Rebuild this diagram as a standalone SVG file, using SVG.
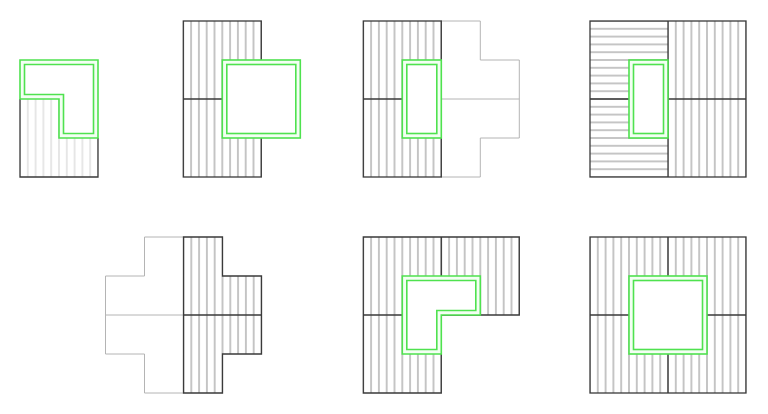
<svg xmlns="http://www.w3.org/2000/svg" width="768" height="414" viewBox="0 0 768 414">
<defs>
<pattern id="vh" patternUnits="userSpaceOnUse" x="-3.9" y="0" width="7.8" height="20">
<line x1="3.9" y1="0" x2="3.9" y2="20" stroke="#8c8c8c" stroke-width="1"/>
</pattern>
<pattern id="vhl" patternUnits="userSpaceOnUse" x="-3.9" y="0" width="7.8" height="20">
<line x1="3.9" y1="0" x2="3.9" y2="20" stroke="#cfcfcf" stroke-width="1"/>
</pattern>
<pattern id="hh" patternUnits="userSpaceOnUse" x="0" y="-3.9" width="20" height="7.8">
<line x1="0" y1="3.9" x2="20" y2="3.9" stroke="#8c8c8c" stroke-width="1"/>
</pattern>
</defs>
<style>
.dk{fill:none;stroke:#3a3a3a;stroke-width:1.3}
.lt{fill:none;stroke:#b4b4b4;stroke-width:1}
.go{fill:#f3fff3;stroke:#4fe24f;stroke-width:1.6}
.gi{fill:#fff;stroke:#4fe24f;stroke-width:1.6}
</style>
<rect width="768" height="414" fill="#fff"/>

<g id="p1" transform="translate(20,21)">
<path d="M0,78 H39 V117 H78 V156 H0 Z" fill="url(#vhl)"/>
<path class="dk" d="M0,78 V156 H78 V117"/>
<path class="go" d="M0,39 H78 V117 H39 V78 H0 Z"/>
<path class="gi" d="M4.5,43.5 H73.5 V112.5 H43.5 V73.5 H4.5 Z"/>
</g>

<g id="p2" transform="translate(183.3,21)">
<rect x="0" y="0" width="78" height="156" fill="url(#vh)"/>
<rect class="dk" x="0" y="0" width="78" height="156"/>
<line class="dk" x1="0" y1="78" x2="39" y2="78"/>
<rect class="go" x="39" y="39" width="78" height="78"/>
<rect class="gi" x="43.5" y="43.5" width="69" height="69"/>
</g>

<g id="p3" transform="translate(363.3,21)">
<rect x="0" y="0" width="78" height="156" fill="url(#vh)"/>
<path class="lt" d="M78,0 H117 V39 H156 V117 H117 V156 H78 M78,78 H156"/>
<rect class="dk" x="0" y="0" width="78" height="156"/>
<line class="dk" x1="0" y1="78" x2="39" y2="78"/>
<rect class="go" x="39" y="39" width="39" height="78"/>
<rect class="gi" x="43.5" y="43.5" width="30" height="69"/>
</g>

<g id="p4" transform="translate(590,21)">
<rect x="0" y="0" width="78" height="156" fill="url(#hh)"/>
<rect x="78" y="0" width="78" height="156" fill="url(#vh)"/>
<rect class="dk" x="0" y="0" width="156" height="156"/>
<path class="dk" d="M78,0 V156 M0,78 H39 M78,78 H156"/>
<rect class="go" x="39" y="39" width="39" height="78"/>
<rect class="gi" x="43.5" y="43.5" width="30" height="69"/>
</g>

<g id="p5" transform="translate(105.5,237)">
<path class="lt" d="M78,0 H39 V39 H0 V117 H39 V156 H78 M0,78 H78"/>
<g transform="translate(78,0)">
<path d="M0,0 H39 V39 H78 V117 H39 V156 H0 Z" fill="url(#vh)"/>
<path class="dk" d="M0,0 H39 V39 H78 V117 H39 V156 H0 Z M0,78 H78"/>
</g>
</g>

<g id="p6" transform="translate(363.3,237)">
<path d="M0,0 H156 V78 H78 V156 H0 Z" fill="url(#vh)"/>
<path class="dk" d="M0,0 H156 V78 H78 V156 H0 Z M78,0 V39 M0,78 H39"/>
<path class="go" d="M39,39 H117 V78 H78 V117 H39 Z"/>
<path class="gi" d="M43.5,43.5 H112.5 V73.5 H73.5 V112.5 H43.5 Z"/>
</g>

<g id="p7" transform="translate(590,237)">
<rect x="0" y="0" width="156" height="156" fill="url(#vh)"/>
<rect class="dk" x="0" y="0" width="156" height="156"/>
<path class="dk" d="M78,0 V39 M78,117 V156 M0,78 H39 M117,78 H156"/>
<rect class="go" x="39" y="39" width="78" height="78"/>
<rect class="gi" x="43.5" y="43.5" width="69" height="69"/>
</g>
</svg>
